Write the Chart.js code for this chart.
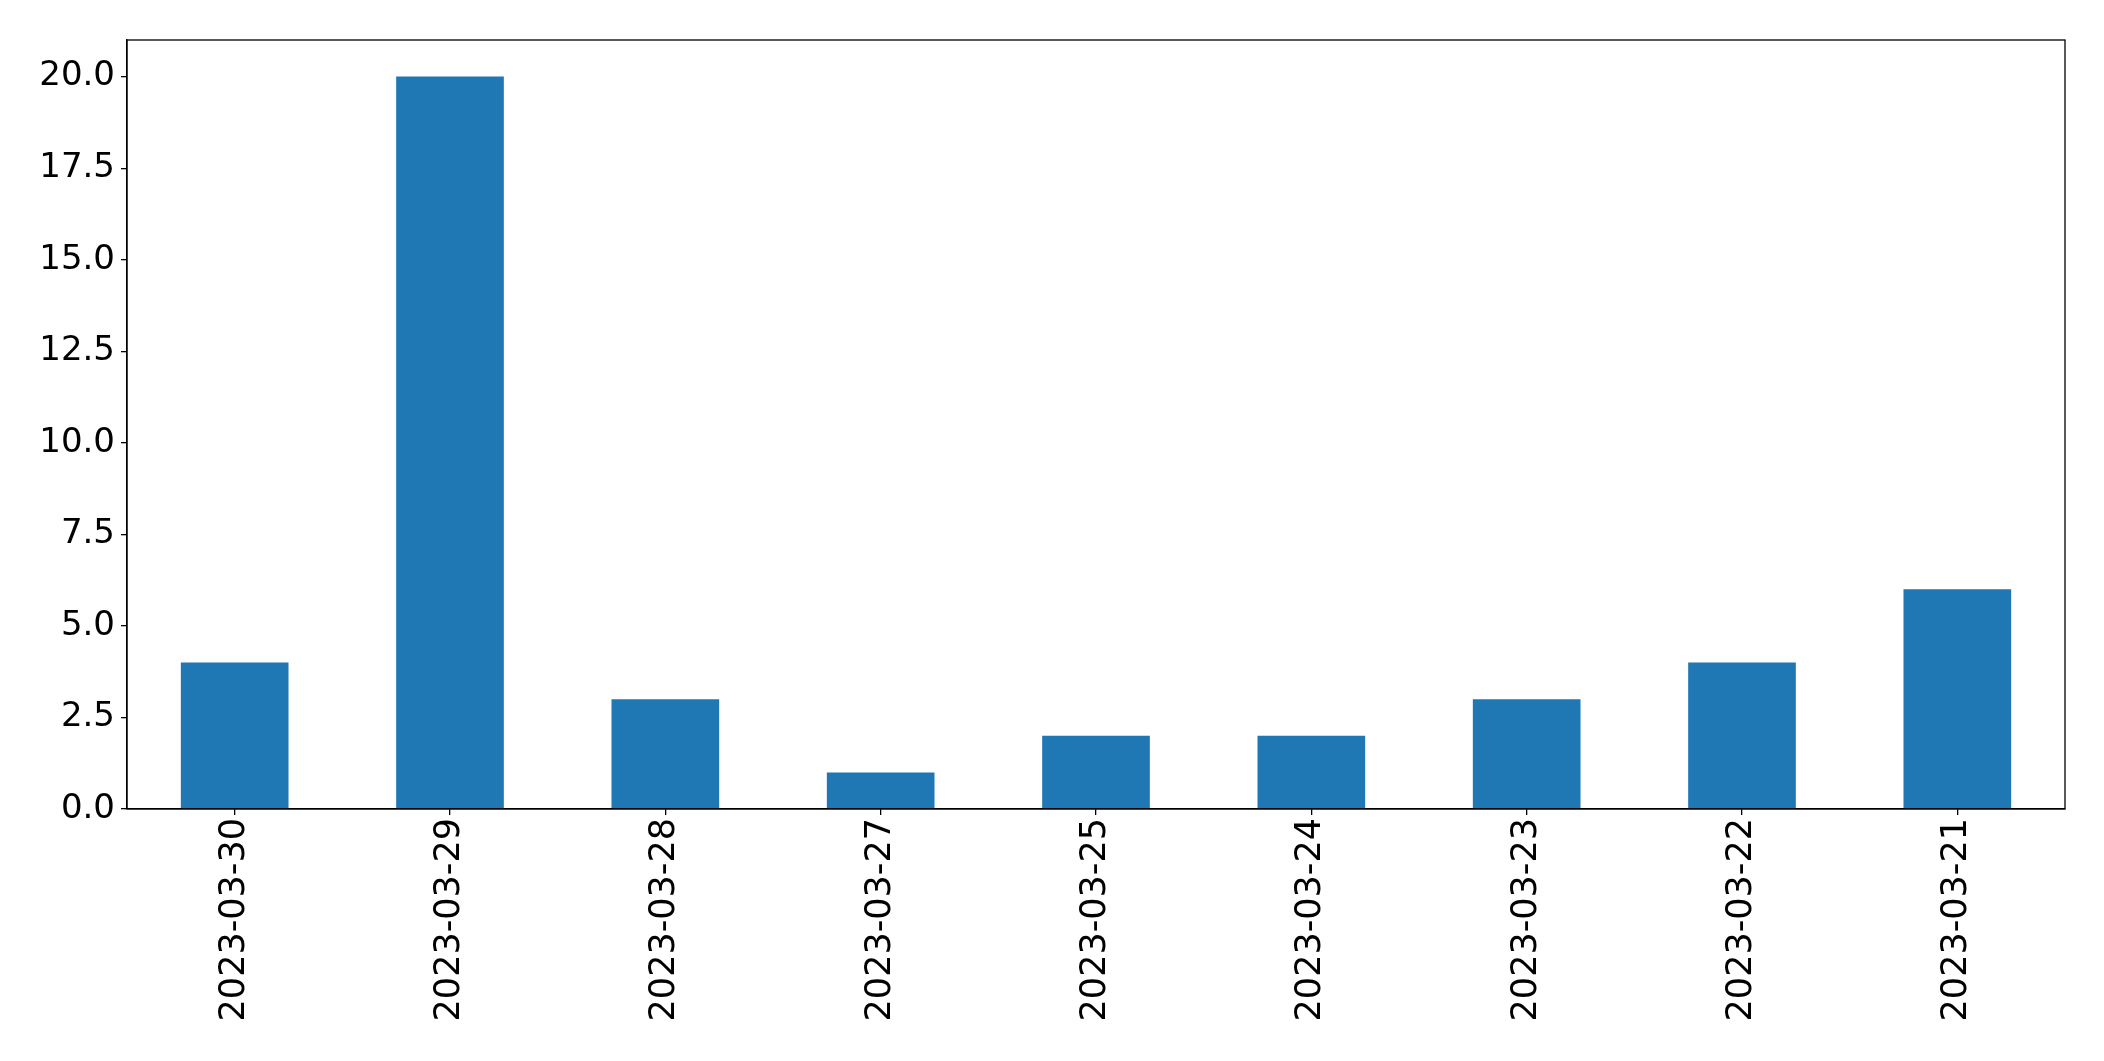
<!DOCTYPE html>
<html lang="en">
<head>
    <meta charset="UTF-8">
    <title>Counts by date</title>
    <script src="https://cdn.jsdelivr.net/npm/chart.js"></script>
    <style>
        html, body { margin: 0; padding: 0; background: #fff; }
        #wrap { width: 2104px; height: 1061px; }
    </style>
</head>
<body>
    <div id="wrap"><canvas id="barChart"></canvas></div>

    <script>
        const dates = ['2023-03-30', '2023-03-29', '2023-03-28', '2023-03-27', '2023-03-25',
                       '2023-03-24', '2023-03-23', '2023-03-22', '2023-03-21'];
        const counts = [4, 20, 3, 1, 2, 2, 3, 4, 6];
        const yTicks = [0, 2.5, 5, 7.5, 10, 12.5, 15, 17.5, 20];

        // box around the plot area, like matplotlib's spines
        const frame = {
            id: 'frame',
            afterDraw(chart) {
                const { ctx, chartArea: a } = chart;
                ctx.save();
                ctx.strokeStyle = '#000';
                ctx.lineWidth = 1.3;
                ctx.strokeRect(a.left, a.top, a.right - a.left, a.bottom - a.top);
                ctx.restore();
            }
        };

        const ctx = document.getElementById('barChart').getContext('2d');
        new Chart(ctx, {
            type: 'bar',
            data: {
                labels: dates,
                datasets: [{
                    data: counts,
                    backgroundColor: '#1f77b4',
                    barPercentage: 0.5,
                    categoryPercentage: 1.0
                }]
            },
            options: {
                responsive: true,
                maintainAspectRatio: false,
                animation: false,
                layout: { padding: { top: 40, right: 39, left: 0, bottom: 0 } },
                plugins: {
                    legend: { display: false },
                    tooltip: { enabled: false }
                },
                scales: {
                    x: {
                        offset: true,
                        grid: { offset: false, drawOnChartArea: false, tickLength: 6, color: '#000', lineWidth: 1.3 },
                        border: { display: true, color: '#000', width: 1.3 },
                        ticks: {
                            color: '#000',
                            maxRotation: 90,
                            minRotation: 90,
                            padding: 3,
                            font: { family: 'DejaVu Sans', size: 35 }
                        },
                        afterFit(axis) { axis.height = 252; }
                    },
                    y: {
                        min: 0,
                        max: 21,
                        grid: { drawOnChartArea: false, tickLength: 6, color: '#000', lineWidth: 1.3 },
                        border: { display: true, color: '#000', width: 1.3 },
                        afterBuildTicks(axis) { axis.ticks = yTicks.map(v => ({ value: v })); },
                        ticks: {
                            color: '#000',
                            padding: 6,
                            font: { family: 'DejaVu Sans', size: 34 },
                            callback: v => Number(v).toFixed(1)
                        },
                        afterFit(axis) { axis.width = 127; }
                    }
                }
            },
            plugins: [frame]
        });
    </script>
</body>
</html>
